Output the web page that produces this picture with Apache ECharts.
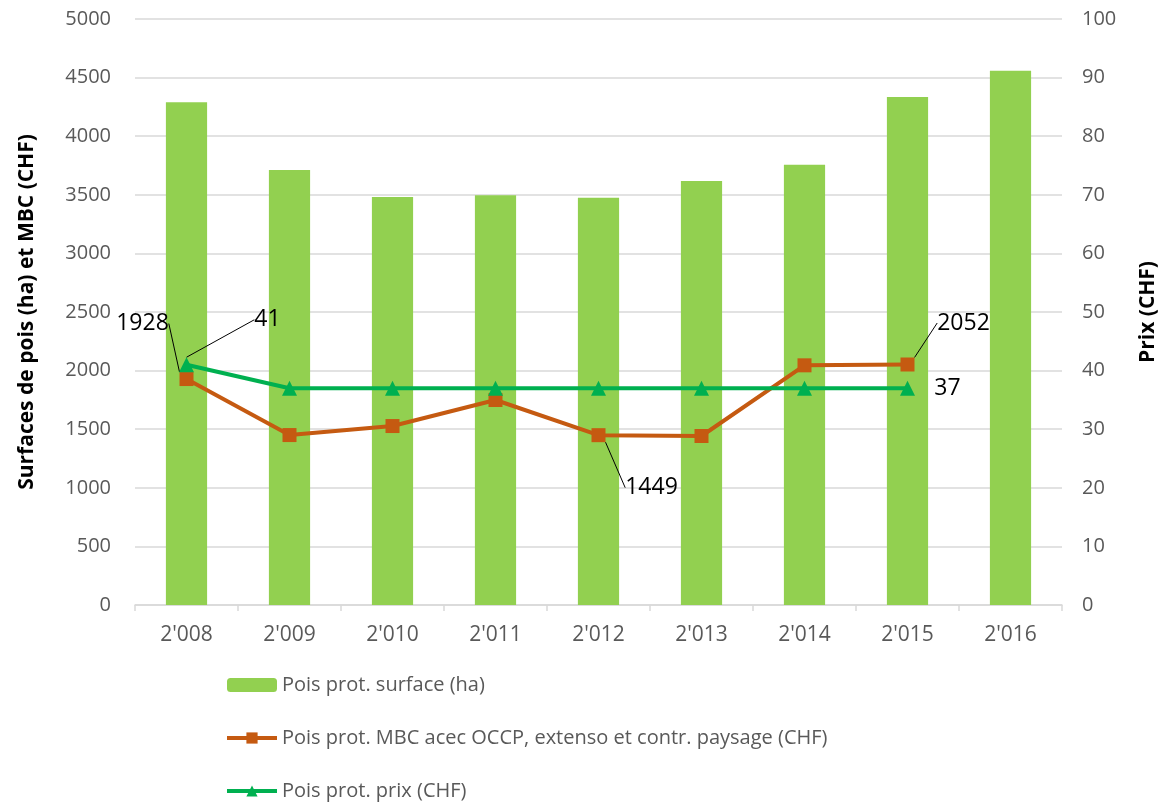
<!DOCTYPE html>
<html>
<head>
<meta charset="utf-8">
<script src="https://cdn.jsdelivr.net/npm/echarts@6/dist/echarts.min.js"></script>
<style>
  html, body { margin: 0; padding: 0; background: #fff; }
  #chart { width: 1167px; height: 803px; }
</style>
</head>
<body>
<div id="chart"></div>
<script>
const years = ["2'008", "2'009", "2'010", "2'011", "2'012", "2'013", "2'014", "2'015", "2'016"];
const surface = [4289, 3712, 3481, 3496, 3474, 3618, 3757, 4334, 4559];
const mbc = [1928, 1450, 1527, 1749, 1449, 1442, 2045, 2052, null];
const prix = [41, 37, 37, 37, 37, 37, 37, 37, null];
const mbcLabelled = [0, 4, 7];
const prixLabelled = [0, 7];

const font = "'Open Sans', 'Noto Sans', sans-serif";
const grey = '#595959';

// offsets of the moved data labels, by data index
const mbcShift = {0: [-44, -32], 4: [53, 76], 7: [56, -18]};
const prixShift = {0: [81, -21], 7: [40, 24]};

const myChart = echarts.init(document.getElementById('chart'));
myChart.setOption({
    animation: false,
    textStyle: { fontFamily: font },
    grid: { left: 135, right: 97, top: 19, bottom: 198 },
    legend: {
        orient: 'vertical',
        left: 220,
        top: 670,
        height: 160,
        itemGap: 33,
        itemWidth: 50,
        itemHeight: 14,
        lineStyle: { width: 4 },
        textStyle: { color: grey, fontSize: 20, lineHeight: 20, fontFamily: font },
        data: [
            { name: 'Pois prot. surface (ha)' },
            { name: 'Pois prot. MBC acec OCCP, extenso et contr. paysage (CHF)' },
            { name: 'Pois prot. prix (CHF)' }
        ]
    },
    xAxis: {
        type: 'category',
        data: years,
        axisLine: { lineStyle: { color: '#d9d9d9', width: 1.5 } },
        axisTick: { show: true, length: 6, lineStyle: { color: '#d9d9d9', width: 1.5 } },
        axisLabel: { color: grey, fontSize: 21, margin: 20 }
    },
    yAxis: [
        {
            type: 'value',
            min: 0, max: 5000, interval: 500,
            name: 'Surfaces de pois (ha) et MBC (CHF)',
            nameLocation: 'middle',
            nameGap: 97,
            nameTextStyle: { color: '#000', fontSize: 21, fontWeight: 'bold' },
            axisLine: { show: false },
            axisTick: { show: false },
            axisLabel: { color: grey, fontSize: 20, margin: 24, formatter: v => String(v) },
            splitLine: { lineStyle: { color: '#d9d9d9', width: 1.5 } }
        },
        {
            type: 'value',
            min: 0, max: 100, interval: 10,
            name: 'Prix (CHF)',
            nameLocation: 'middle',
            nameGap: 76,
            nameRotate: 90,
            nameTextStyle: { color: '#000', fontSize: 21, fontWeight: 'bold' },
            axisLine: { show: false },
            axisTick: { show: false },
            axisLabel: { color: grey, fontSize: 20, margin: 20 },
            splitLine: { show: false }
        }
    ],
    series: [
        {
            name: 'Pois prot. surface (ha)',
            type: 'bar',
            barWidth: '40%',
            itemStyle: { color: '#92d050' },
            data: surface
        },
        {
            name: 'Pois prot. MBC acec OCCP, extenso et contr. paysage (CHF)',
            type: 'line',
            yAxisIndex: 0,
            symbol: 'rect',
            symbolSize: 14,
            itemStyle: { color: '#c55a11' },
            lineStyle: { color: '#c55a11', width: 4 },
            label: { show: false, color: '#000', fontSize: 23 },
            labelLine: { show: true, lineStyle: { color: '#000', width: 1 } },
            labelLayout(p) {
                const s = mbcShift[p.dataIndex];
                return s ? { dx: s[0], dy: s[1] } : {};
            },
            data: mbc.map((v, i) => mbcLabelled.includes(i) ? { value: v, label: { show: true } } : v),
            z: 3
        },
        {
            name: 'Pois prot. prix (CHF)',
            type: 'line',
            yAxisIndex: 1,
            symbol: 'triangle',
            symbolSize: 15,
            itemStyle: { color: '#00b050' },
            lineStyle: { color: '#00b050', width: 4 },
            label: { show: false, color: '#000', fontSize: 23 },
            labelLine: { show: true, lineStyle: { color: '#000', width: 1 } },
            labelLayout(p) {
                const s = prixShift[p.dataIndex];
                return s ? { dx: s[0], dy: s[1] } : {};
            },
            data: prix.map((v, i) => prixLabelled.includes(i)
                ? { value: v, label: { show: true }, labelLine: { show: i === 0 } }
                : v),
            z: 4
        }
    ]
});
</script>
</body>
</html>
